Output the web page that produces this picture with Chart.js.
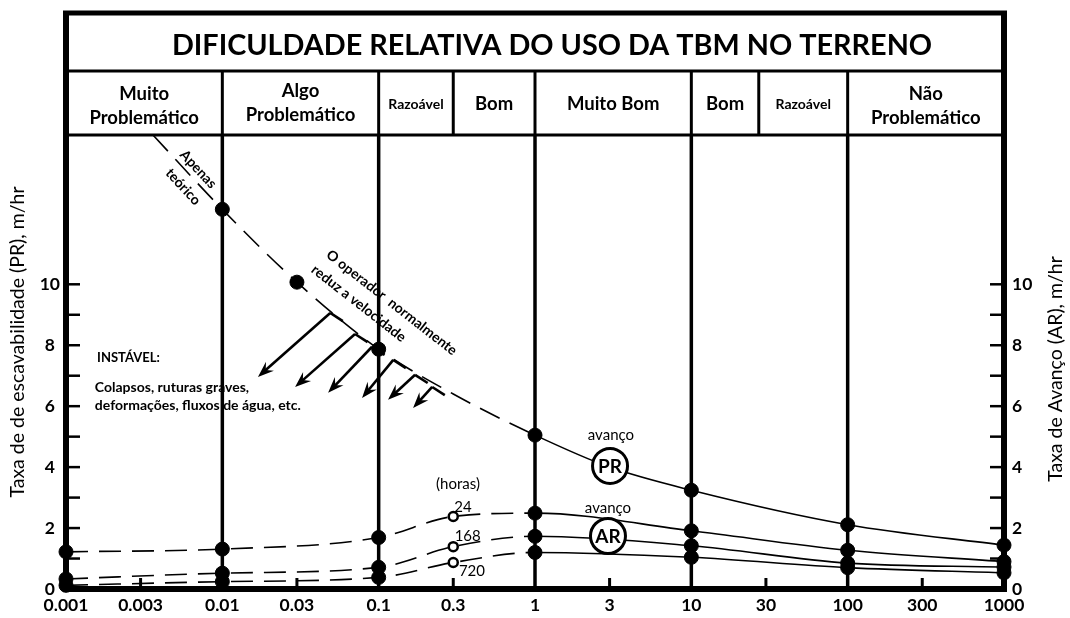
<!DOCTYPE html>
<html>
<head>
<meta charset="utf-8">
<script src="https://cdn.jsdelivr.net/npm/chart.js@4.4.1/dist/chart.umd.min.js"></script>
<style>
  html, body { margin: 0; padding: 0; background: #fff; }
</style>
</head>
<body>
<canvas id="grafico" width="1070" height="618"></canvas>
<script>
// ---- dados ----
const xTicks = [0.001, 0.003, 0.01, 0.03, 0.1, 0.3, 1, 3, 10, 30, 100, 300, 1000];
const xTickLabels = ['0.001', '0.003', '0.01', '0.03', '0.1', '0.3', '1', '3', '10', '30', '100', '300', '1000'];
const yTicks = [0, 2, 4, 6, 8, 10];

const titulo = 'DIFICULDADE RELATIVA DO USO DA TBM NO TERRENO';
const classes = [['Muito', 'Problemático'], ['Algo', 'Problemático'], ['Razoável'], ['Bom'], ['Muito Bom'], ['Bom'], ['Razoável'], ['Não', 'Problemático']];
const limitesClasses = [0.001, 0.01, 0.1, 0.3, 1, 10, 27, 100, 1000];

// taxa de escavabilidade (PR)
const xPR = [0.0036, 0.01, 0.03, 0.1, 0.3, 1, 3, 10, 100, 1000];
const yPR = [14.9, 12.46, 10.07, 7.87, 6.4, 5.05, 4.0, 3.24, 2.11, 1.44];
const marcadoresPR = [0.01, 0.03, 0.1, 1, 10, 100, 1000];

// taxa de avanço (AR) para 24, 168 e 720 horas
const xAR = [0.001, 0.01, 0.1, 0.3, 1, 10, 100, 1000];
const yAR24 = [1.22, 1.31, 1.69, 2.38, 2.49, 1.91, 1.27, 0.9];
const yAR168 = [0.33, 0.52, 0.71, 1.39, 1.73, 1.42, 0.85, 0.72];
const yAR720 = [0.12, 0.24, 0.38, 0.87, 1.2, 1.04, 0.7, 0.53];
const marcadoresAR = [0.001, 0.01, 0.1, 1, 10, 100, 1000];
const abertosAR = [0.3];

// setas "o operador normalmente reduz a velocidade"
const setasDe = [[0.049, 9.06], [0.0706, 8.37], [0.0907, 7.95], [0.124, 7.52], [0.171, 7.03], [0.22, 6.63]];
const setasPara = [[0.0169, 6.96], [0.0292, 6.63], [0.0475, 6.44], [0.0783, 6.27], [0.1148, 6.21], [0.166, 5.94]];

const FONTE = 'Lato, "Open Sans", sans-serif';
const tracejado = [22, 11];

function serie(xs, ys) {
    return xs.map((x, i) => ({ x: x, y: ys[i] }));
}

function estilo(xs, cheios, abertos) {
    return {
        borderColor: '#000',
        borderWidth: 1.6,
        fill: false,
        cubicInterpolationMode: 'monotone',
        pointRadius: xs.map(x => cheios.includes(x) ? 7 : (abertos.includes(x) ? 4.5 : 0)),
        pointBackgroundColor: xs.map(x => abertos.includes(x) ? 'rgba(0,0,0,0)' : '#000'),
        pointBorderColor: '#000',
        pointBorderWidth: xs.map(x => abertos.includes(x) ? 2.5 : 1),
        pointHoverRadius: 0,
        segment: { borderDash: c => c.p0.parsed.x < 0.999 ? tracejado : undefined },
        clip: { left: 12, top: 0, right: 12, bottom: 12 }
    };
}

function linha(ctx, x0, y0, x1, y1) {
    ctx.beginPath(); ctx.moveTo(x0, y0); ctx.lineTo(x1, y1); ctx.stroke();
}

function texto(ctx, t, x, y, fonte, alinhar, rot) {
    ctx.save();
    ctx.translate(x, y);
    if (rot) ctx.rotate(rot * Math.PI / 180);
    ctx.font = fonte;
    ctx.textAlign = alinhar || 'center';
    ctx.textBaseline = 'middle';
    ctx.fillStyle = '#000';
    ctx.fillText(t, 0, 0);
    ctx.restore();
}

function seta(ctx, x0, y0, x1, y1) {
    const ang = Math.atan2(y1 - y0, x1 - x0);
    const comp = 16, larg = 6;
    ctx.lineWidth = 2.6;
    linha(ctx, x0, y0, x1 - Math.cos(ang) * comp * 0.6, y1 - Math.sin(ang) * comp * 0.6);
    // pequena barra junto à curva
    const a2 = 33 * Math.PI / 180;
    linha(ctx, x0, y0, x0 + Math.cos(a2) * 15, y0 + Math.sin(a2) * 15);
    ctx.save();
    ctx.translate(x1, y1);
    ctx.rotate(ang);
    ctx.beginPath();
    ctx.moveTo(0, 0);
    ctx.lineTo(-comp, -larg);
    ctx.lineTo(-comp * 0.65, 0);
    ctx.lineTo(-comp, larg);
    ctx.closePath();
    ctx.fill();
    ctx.restore();
}

// moldura, cabeçalho e marcas dos eixos (antes das séries)
const pluginMoldura = {
    id: 'moldura',
    beforeDatasetsDraw(chart) {
        const ctx = chart.ctx, ca = chart.chartArea;
        const sx = chart.scales.x, sy = chart.scales.y;
        const topo = 13, linhaTitulo = 71;
        ctx.save();
        ctx.strokeStyle = '#000';
        ctx.fillStyle = '#000';
        ctx.lineCap = 'butt';

        // divisões do cabeçalho
        ctx.lineWidth = 3;
        limitesClasses.slice(1, -1).forEach(v => {
            const p = sx.getPixelForValue(v);
            linha(ctx, p, linhaTitulo, p, ca.top);
        });
        // linhas verticais das décadas
        ctx.lineWidth = 3.5;
        [0.01, 0.1, 1, 10, 100].forEach(v => {
            const p = sx.getPixelForValue(v);
            linha(ctx, p, ca.top, p, ca.bottom);
        });
        ctx.lineWidth = 3;
        linha(ctx, ca.left, linhaTitulo, ca.right, linhaTitulo);
        linha(ctx, ca.left, ca.top, ca.right, ca.top);

        // contorno
        ctx.lineWidth = 5;
        linha(ctx, ca.left - 3, topo, ca.right + 3, topo);
        ctx.lineWidth = 6;
        linha(ctx, ca.left, topo - 2, ca.left, ca.bottom + 3);
        linha(ctx, ca.right, topo - 2, ca.right, ca.bottom + 3);
        linha(ctx, ca.left - 3, ca.bottom, ca.right + 3, ca.bottom);

        // marcas para dentro
        ctx.lineWidth = 2.5;
        for (let v = 1; v <= 10; v++) {
            const p = sy.getPixelForValue(v);
            linha(ctx, ca.left, p, ca.left + 14, p);
            linha(ctx, ca.right - 14, p, ca.right, p);
        }
        ctx.lineWidth = 3;
        [0.003, 0.03, 0.3, 3, 30, 300].forEach(v => {
            const p = sx.getPixelForValue(v);
            linha(ctx, p, ca.bottom, p, ca.bottom - 11);
        });

        // título
        ctx.font = 'bold 30px ' + FONTE;
        const w = ctx.measureText(titulo).width;
        const tam = Math.min(34, 30 * 760 / w);
        texto(ctx, titulo, 552, 46, 'bold ' + tam.toFixed(1) + 'px ' + FONTE);

        // classes
        classes.forEach((c, i) => {
            const xc = (sx.getPixelForValue(limitesClasses[i]) + sx.getPixelForValue(limitesClasses[i + 1])) / 2;
            const fonte = (c[0] === 'Razoável' ? 'bold 14px ' : 'bold 18.5px ') + FONTE;
            if (c.length === 1) {
                texto(ctx, c[0], xc, 104, fonte);
            } else {
                const dy = c[0] === 'Algo' ? -3 : 0;
                texto(ctx, c[0], xc, 94 + dy, fonte);
                texto(ctx, c[1], xc, 118 + dy, fonte);
            }
        });
        ctx.restore();
    },
    afterDatasetsDraw(chart) {
        const ctx = chart.ctx;
        const sx = chart.scales.x, sy = chart.scales.y;
        const X = v => sx.getPixelForValue(v), Y = v => sy.getPixelForValue(v);
        ctx.save();
        ctx.strokeStyle = '#000';
        ctx.fillStyle = '#000';

        // setas
        setasDe.forEach((d, i) => {
            const p = setasPara[i];
            seta(ctx, X(d[0]), Y(d[1]), X(p[0]), Y(p[1]));
        });

        // textos do gráfico
        const b14 = 'bold 14px ' + FONTE, r15 = '15px ' + FONTE;
        texto(ctx, 'Apenas', X(0.0070), Y(13.78), b14, 'center', 47);
        texto(ctx, 'teórico', X(0.00561), Y(13.2), b14, 'center', 47);
        texto(ctx, 'O operador  normalmente', X(0.121), Y(9.4), b14, 'center', 38);
        texto(ctx, 'reduz a velocidade', X(0.0745), Y(9.37), b14, 'center', 38);
        texto(ctx, 'INSTÁVEL:', X(0.00158), Y(7.59), 'bold 13px ' + FONTE, 'left');
        texto(ctx, 'Colapsos, ruturas graves,', X(0.00153), Y(6.63), b14, 'left');
        texto(ctx, 'deformações, fluxos de água, etc.', X(0.00153), Y(6.01), b14, 'left');

        texto(ctx, '(horas)', X(0.3217), Y(3.45), r15);
        texto(ctx, '24', X(0.346), Y(2.69), r15);
        texto(ctx, '168', X(0.371), Y(1.74), r15);
        texto(ctx, '720', X(0.395), Y(0.6), r15);

        texto(ctx, 'avanço', X(3.06), Y(5.06), r15);
        texto(ctx, 'avanço', X(2.93), Y(2.66), r15);
        [['PR', 3.02, 4.04], ['AR', 2.93, 1.74]].forEach(c => {
            ctx.beginPath();
            ctx.arc(X(c[1]), Y(c[2]), 17.5, 0, Math.PI * 2);
            ctx.fillStyle = '#fff';
            ctx.fill();
            ctx.lineWidth = 3;
            ctx.stroke();
            ctx.fillStyle = '#000';
            texto(ctx, c[0], X(c[1]), Y(c[2]) + 1, 'bold 19px ' + FONTE);
        });

        // títulos dos eixos y
        texto(ctx, 'Taxa de de escavabilidade (PR), m/hr', 18, 342, '19.5px ' + FONTE, 'center', -90);
        texto(ctx, 'Taxa de Avanço (AR), m/hr', 1056, 369, '19.5px ' + FONTE, 'center', -90);
        ctx.restore();
    }
};

const fonteEixo = { family: FONTE, weight: 'bold', size: 17.5 };

const chart = new Chart(document.getElementById('grafico').getContext('2d'), {
    type: 'line',
    data: {
        datasets: [
            Object.assign({ label: 'PR', data: serie(xPR, yPR) }, estilo(xPR, marcadoresPR, [])),
            Object.assign({ label: 'AR 24 h', data: serie(xAR, yAR24) }, estilo(xAR, marcadoresAR, abertosAR)),
            Object.assign({ label: 'AR 168 h', data: serie(xAR, yAR168) }, estilo(xAR, marcadoresAR, abertosAR)),
            Object.assign({ label: 'AR 720 h', data: serie(xAR, yAR720) }, estilo(xAR, marcadoresAR, abertosAR))
        ]
    },
    options: {
        responsive: false,
        animation: false,
        layout: { padding: { top: 135, left: 0, right: 0, bottom: 0 } },
        plugins: {
            legend: { display: false },
            tooltip: { enabled: false }
        },
        scales: {
            x: {
                type: 'logarithmic',
                min: 0.001,
                max: 1000,
                afterBuildTicks: s => { s.ticks = xTicks.map(v => ({ value: v })); },
                afterFit: s => { s.height = 29; },
                ticks: {
                    callback: (v, i) => xTickLabels[i],
                    autoSkip: false,
                    maxRotation: 0,
                    color: '#000',
                    font: fonteEixo,
                    padding: 6
                },
                grid: { display: false, drawTicks: false },
                border: { display: false }
            },
            y: {
                type: 'linear',
                position: 'left',
                min: 0,
                max: 14.9,
                afterBuildTicks: s => { s.ticks = yTicks.map(v => ({ value: v })); },
                afterFit: s => { s.width = 66; },
                ticks: { color: '#000', font: fonteEixo, padding: 6, crossAlign: 'center' },
                grid: { display: false, drawTicks: false },
                border: { display: false }
            },
            y2: {
                type: 'linear',
                position: 'right',
                min: 0,
                max: 14.9,
                afterBuildTicks: s => { s.ticks = yTicks.map(v => ({ value: v })); },
                afterFit: s => { s.width = 66; },
                ticks: { color: '#000', font: fonteEixo, padding: 8 },
                grid: { display: false, drawTicks: false },
                border: { display: false }
            }
        }
    },
    plugins: [pluginMoldura]
});
</script>
</body>
</html>
